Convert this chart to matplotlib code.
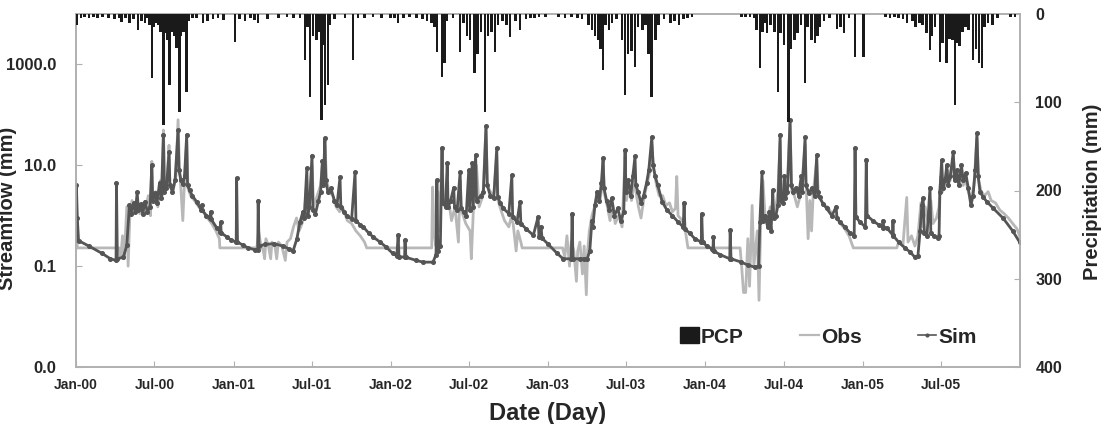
import numpy as np
import matplotlib
matplotlib.use("Agg")
import matplotlib.pyplot as plt
import matplotlib.dates as mdates
from matplotlib.patches import Patch
from matplotlib.lines import Line2D

plt.rcParams['font.family'] = ['Liberation Sans', 'DejaVu Sans']

START = np.datetime64('2000-01-01')

# ---- Simulated streamflow (day offset from 2000-01-01, mm) ----
sim_2000 = [(0, 0.33), (1, 4.0), (3, 0.9), (6, 0.32), (30, 0.25), (60, 0.18), (80, 0.14), (93, 0.13),
            (94, 4.4), (96, 0.14), (110, 0.15), (118, 0.26), (124, 1.6), (128, 1.1), (134, 1.8),
            (138, 1.2), (142, 2.9), (145, 1.3), (150, 1.7), (155, 1.1), (160, 1.9), (166, 1.2),
            (172, 1.5), (176, 10), (178, 2.0), (184, 2.8), (188, 1.8), (194, 4.5), (198, 2.2),
            (203, 40), (205, 3.0), (210, 3.5), (216, 18), (218, 4.0), (224, 3.0), (230, 5.0),
            (237, 50), (239, 8), (244, 5), (248, 4.2), (252, 6), (257, 40), (259, 4), (264, 3.2),
            (270, 2.5), (280, 1.9), (291, 1.3), (292, 1.6), (293, 1.3), (303, 1.0), (312, 0.9),
            (313, 1.2), (314, 0.85), (327, 0.57), (335, 0.48), (336, 0.75), (337, 0.46),
            (350, 0.38), (360, 0.33)]
sim_2001 = [(372, 0.30), (373, 5.5), (375, 0.30), (388, 0.26), (400, 0.23), (416, 0.21), (422, 0.21),
            (423, 2.0), (425, 0.25), (440, 0.27), (460, 0.28), (480, 0.25), (495, 0.22), (504, 0.20),
            (513, 0.35), (520, 0.75), (527, 1.2), (530, 0.9), (536, 8.7), (538, 1.0), (542, 1.5),
            (548, 15.6), (550, 1.3), (556, 1.1), (563, 2.0), (568, 3.0), (572, 12), (574, 4),
            (578, 34), (580, 5), (585, 2.9), (592, 3.5), (600, 2.0), (606, 1.6), (613, 5.8),
            (615, 1.5), (622, 1.2), (629, 1.0), (640, 0.85), (648, 7.3), (650, 0.8), (660, 0.66),
            (667, 0.6), (680, 0.45), (690, 0.38), (706, 0.30), (720, 0.24)]
sim_2002 = [(735, 0.18), (745, 0.16), (748, 0.41), (750, 0.155), (763, 0.15), (764, 0.33), (766, 0.15),
            (790, 0.13), (806, 0.12), (829, 0.12), (836, 0.17), (838, 5), (840, 0.2), (846, 0.25),
            (850, 22), (852, 1.8), (858, 1.5), (862, 11), (864, 1.5), (870, 2.0), (877, 3.6),
            (879, 1.5), (885, 1.3), (892, 7.3), (894, 1.4), (900, 1.2), (906, 1.0), (912, 8),
            (914, 1.3), (920, 11), (922, 1.5), (928, 16), (930, 2.0), (940, 2.5), (946, 3),
            (952, 60), (955, 4), (962, 2.5), (970, 2.2), (977, 22), (979, 2.4), (985, 1.8),
            (992, 1.4), (1005, 1.1), (1012, 6.3), (1014, 0.95), (1024, 0.75), (1031, 1.9),
            (1033, 0.7), (1045, 0.55), (1062, 0.41), (1073, 0.95), (1075, 0.38), (1080, 0.6),
            (1082, 0.36)]
sim_2003 = [(1095, 0.28), (1117, 0.18), (1131, 0.14), (1150, 0.14), (1152, 1.1), (1154, 0.14),
            (1170, 0.14), (1180, 0.14), (1187, 0.14), (1193, 0.2), (1198, 0.8), (1200, 0.6),
            (1205, 1.6), (1210, 3.0), (1215, 2.0), (1220, 4.5), (1224, 14), (1226, 3.5), (1232, 2.0),
            (1238, 1.3), (1244, 2.2), (1250, 1.0), (1258, 1.4), (1265, 0.8), (1272, 1.2), (1275, 20),
            (1277, 3), (1282, 5), (1288, 2.5), (1293, 6), (1298, 15), (1300, 4), (1305, 3),
            (1312, 1.8), (1318, 2.5), (1325, 4.5), (1330, 8), (1337, 36), (1340, 10), (1345, 6),
            (1351, 4), (1361, 1.9), (1372, 1.3), (1385, 1.0), (1398, 0.75), (1410, 0.6),
            (1412, 1.8), (1414, 0.55), (1425, 0.45), (1437, 0.35), (1452, 0.3), (1453, 1.1),
            (1455, 0.3), (1465, 0.25)]
sim_2004 = [(1477, 0.22), (1479, 0.21), (1480, 0.38), (1481, 0.2), (1495, 0.17), (1518, 0.14),
            (1519, 0.52), (1521, 0.14), (1545, 0.12), (1560, 0.105), (1577, 0.095), (1585, 0.1),
            (1588, 0.75), (1593, 7.3), (1595, 0.8), (1600, 1.0), (1606, 0.6), (1610, 1.2),
            (1614, 0.5), (1618, 3.2), (1620, 0.9), (1625, 1.0), (1630, 1.6), (1635, 40), (1637, 2),
            (1642, 1.8), (1645, 6), (1647, 2.2), (1652, 3), (1658, 80), (1661, 4), (1666, 3.0),
            (1672, 3.5), (1678, 2.5), (1684, 6), (1686, 3), (1693, 36), (1695, 4), (1702, 2.8),
            (1708, 3.5), (1715, 2.5), (1720, 16), (1722, 3), (1727, 2.3), (1735, 1.7), (1743, 1.4),
            (1755, 1.0), (1765, 1.5), (1767, 0.9), (1774, 0.75), (1785, 0.6), (1797, 0.46),
            (1807, 0.4), (1809, 22), (1811, 0.95), (1820, 0.75), (1833, 0.6), (1835, 13),
            (1837, 1.0)]
sim_2005 = [(1850, 0.8), (1865, 0.65), (1873, 0.6), (1874, 0.8), (1875, 0.58), (1883, 0.57),
            (1896, 0.42), (1897, 0.8), (1898, 0.4), (1910, 0.3), (1925, 0.23), (1937, 0.19),
            (1948, 0.15), (1955, 0.16), (1960, 0.5), (1964, 1.6), (1967, 2.2), (1970, 0.45),
            (1976, 0.4), (1983, 3.6), (1985, 0.45), (1992, 0.4), (2001, 0.36), (2004, 0.4),
            (2006, 3), (2010, 12.6), (2013, 3.5), (2018, 5), (2022, 10), (2025, 4), (2030, 6),
            (2037, 18), (2040, 5), (2045, 8), (2050, 4), (2056, 10), (2060, 5), (2066, 7),
            (2072, 3.5), (2078, 1.6), (2083, 2.5), (2088, 8), (2092, 43), (2095, 6), (2099, 3),
            (2107, 2.3), (2115, 1.9), (2130, 1.4), (2153, 0.89), (2175, 0.5), (2191, 0.3)]

# ---- Observed streamflow ----
obs_2000 = [(0, 0.23), (1, 3.5), (3, 0.23), (100, 0.23), (104, 0.15), (108, 0.4), (112, 0.14),
            (118, 1.5), (121, 0.1), (125, 1.0), (130, 2.0), (136, 1.3), (142, 2.2), (148, 1.1),
            (155, 1.5), (160, 1.2), (168, 2.5), (173, 1.0), (176, 12), (178, 2.5), (185, 3.0),
            (190, 1.5), (196, 5), (200, 2.5), (203, 50), (206, 4), (212, 6), (216, 25), (218, 4),
            (225, 3), (232, 6), (237, 80), (240, 10), (244, 3), (248, 0.8), (252, 5), (257, 30),
            (260, 3.5), (266, 2.5), (275, 2.0), (285, 1.5), (295, 1.2), (305, 0.9), (315, 0.7),
            (325, 0.5), (333, 0.35), (334, 0.23)]
obs_2001 = [(420, 0.23), (424, 0.5), (428, 0.3), (435, 0.2), (438, 0.14), (441, 0.35), (447, 0.25),
            (452, 0.14), (455, 0.3), (462, 0.25), (466, 0.14), (470, 0.3), (478, 0.25), (486, 0.13),
            (490, 0.3), (498, 0.35), (505, 0.6), (512, 0.9), (518, 0.5), (525, 0.7), (530, 1.0),
            (536, 5), (540, 1.0), (548, 10), (552, 1.5), (560, 2.5), (568, 4), (572, 10), (576, 6),
            (578, 25), (582, 5), (588, 3), (596, 2.5), (604, 1.5), (612, 1.2), (620, 1.4),
            (630, 0.8), (640, 0.7), (650, 0.5), (660, 0.4), (670, 0.3), (675, 0.23)]
obs_2002 = [(826, 0.23), (828, 3.7), (832, 0.4), (836, 0.25), (840, 3), (844, 0.5), (850, 20),
            (853, 2), (860, 1.5), (866, 1.8), (872, 0.8), (880, 1.5), (888, 0.3), (892, 5),
            (896, 1.2), (905, 0.7), (915, 0.5), (918, 0.14), (923, 1.5), (930, 10), (936, 1.5),
            (945, 2.5), (952, 55), (955, 4), (962, 3), (970, 2.5), (977, 15), (980, 2.0),
            (988, 1.2), (995, 0.8), (1005, 0.6), (1010, 0.9), (1015, 0.7), (1022, 0.2),
            (1026, 0.5), (1033, 0.3), (1036, 0.23)]
obs_2003 = [(1130, 0.23), (1135, 0.15), (1140, 0.4), (1146, 0.1), (1150, 0.3), (1156, 0.2),
            (1162, 0.05), (1165, 0.2), (1170, 0.3), (1176, 0.07), (1180, 0.25), (1185, 0.027),
            (1188, 0.2), (1192, 0.5), (1198, 1.0), (1204, 1.5), (1210, 2.5), (1216, 1.8),
            (1222, 4), (1224, 10), (1228, 2.5), (1234, 1.5), (1240, 0.8), (1246, 1.8), (1252, 0.7),
            (1260, 1.0), (1268, 0.6), (1275, 15), (1278, 2), (1284, 4), (1290, 2), (1296, 5),
            (1300, 3), (1306, 1.5), (1312, 0.9), (1318, 2), (1325, 4), (1332, 7), (1337, 25),
            (1342, 8), (1348, 4), (1354, 2.5), (1362, 2.5), (1370, 1.6), (1378, 1.8), (1385, 1.2),
            (1392, 1.4), (1395, 6), (1398, 1.0), (1408, 0.8), (1415, 0.5), (1421, 0.23)]
obs_2004 = [(1542, 0.23), (1546, 0.09), (1550, 0.03), (1555, 0.03), (1560, 0.35), (1564, 0.04),
            (1570, 1.6), (1574, 0.1), (1582, 0.5), (1586, 0.021), (1590, 0.8), (1595, 5),
            (1600, 1.0), (1606, 0.7), (1612, 1.5), (1618, 0.9), (1625, 1.5), (1630, 3), (1635, 30),
            (1638, 2), (1645, 2.5), (1652, 5), (1658, 70), (1662, 3), (1668, 2.5), (1675, 1.5),
            (1684, 3), (1693, 25), (1696, 3), (1700, 0.35), (1704, 2), (1708, 0.5), (1712, 3),
            (1720, 12), (1724, 2.5), (1730, 2), (1738, 1.6), (1745, 1.5), (1755, 1.1), (1765, 0.9),
            (1775, 0.7), (1785, 0.55), (1795, 0.4), (1805, 0.23)]
obs_2005 = [(1906, 0.23), (1910, 0.3), (1920, 0.25), (1929, 2.3), (1932, 0.3), (1940, 0.4),
            (1948, 0.25), (1955, 0.4), (1962, 1.8), (1966, 0.6), (1972, 1.5), (1978, 0.8),
            (1985, 2.0), (1990, 0.7), (1998, 0.9), (2004, 1.5), (2008, 6), (2012, 3), (2018, 4),
            (2024, 8), (2030, 5), (2037, 15), (2042, 6), (2048, 5), (2054, 8), (2060, 4),
            (2066, 5), (2072, 3), (2078, 2.0), (2085, 4), (2092, 35), (2096, 5), (2102, 3),
            (2110, 2.5), (2118, 3.0), (2125, 2.0), (2135, 1.8), (2145, 1.3), (2155, 1.1),
            (2165, 0.9), (2175, 0.7), (2185, 0.55), (2191, 0.4)]

# ---- Precipitation (day offset, mm) ----
pcp_2000 = [(2, 12), (12, 4), (20, 3), (30, 5), (40, 3), (50, 4), (62, 3), (75, 5), (90, 6),
            (100, 4), (106, 9), (115, 4), (124, 10), (134, 6), (144, 18), (152, 8), (160, 10),
            (165, 5), (170, 12), (176, 73), (180, 15), (185, 10), (190, 12), (196, 20), (203, 126),
            (207, 22), (212, 30), (217, 80), (222, 20), (228, 25), (234, 39), (240, 111), (244, 25),
            (250, 20), (257, 88), (262, 8), (270, 5), (280, 4), (295, 10), (305, 8), (318, 6),
            (330, 5), (342, 7)]
pcp_2001 = [(369, 32), (380, 6), (392, 8), (405, 5), (415, 7), (423, 10), (445, 6), (470, 4),
            (490, 3), (505, 4), (520, 5), (532, 52), (538, 15), (543, 94), (550, 25), (558, 30),
            (565, 20), (570, 120), (575, 35), (578, 103), (585, 80), (590, 12), (600, 6), (625, 4),
            (643, 52), (655, 5), (670, 4), (690, 3), (710, 5)]
pcp_2002 = [(730, 4), (740, 5), (748, 10), (760, 4), (775, 3), (790, 5), (805, 6), (815, 8),
            (826, 10), (833, 15), (838, 43), (850, 71), (855, 55), (860, 8), (875, 5), (892, 43),
            (900, 10), (908, 25), (915, 30), (926, 67), (932, 45), (940, 20), (950, 111), (957, 25),
            (965, 20), (973, 43), (980, 12), (990, 8), (1000, 12), (1008, 26), (1020, 8),
            (1031, 18), (1045, 6), (1055, 5), (1065, 4), (1075, 3)]
pcp_2003 = [(1090, 3), (1120, 3), (1135, 4), (1150, 3), (1165, 4), (1175, 6), (1190, 12),
            (1198, 18), (1205, 25), (1212, 30), (1218, 40), (1224, 63), (1230, 12), (1238, 18),
            (1245, 10), (1255, 6), (1268, 30), (1275, 92), (1282, 45), (1290, 42), (1298, 60),
            (1305, 15), (1315, 18), (1322, 12), (1330, 45), (1337, 94), (1345, 30), (1352, 12),
            (1365, 6), (1380, 10), (1390, 8), (1400, 12), (1410, 6), (1420, 4), (1430, 3)]
pcp_2004 = [(1545, 3), (1555, 3), (1565, 3), (1575, 5), (1580, 18), (1588, 61), (1594, 20),
            (1600, 10), (1605, 22), (1612, 12), (1622, 20), (1630, 88), (1636, 22), (1644, 35),
            (1654, 122), (1660, 40), (1668, 30), (1675, 22), (1683, 12), (1693, 78), (1699, 15),
            (1708, 30), (1716, 33), (1722, 25), (1728, 15), (1737, 8), (1750, 5), (1767, 17),
            (1775, 15), (1783, 22), (1795, 5), (1809, 49), (1828, 49)]
pcp_2005 = [(1880, 3), (1890, 4), (1900, 3), (1910, 5), (1920, 6), (1930, 10), (1942, 8),
            (1950, 15), (1958, 10), (1966, 12), (1975, 22), (1983, 41), (1988, 25), (1995, 15),
            (2006, 54), (2012, 33), (2022, 56), (2028, 28), (2035, 30), (2041, 103), (2046, 33),
            (2052, 36), (2058, 20), (2065, 15), (2072, 18), (2083, 52), (2090, 40), (2097, 55),
            (2104, 61), (2110, 15), (2118, 10), (2128, 12), (2140, 4), (2170, 3), (2180, 3)]

x_ticks = ['2000-01-01', '2000-07-01', '2001-01-01', '2001-07-01', '2002-01-01', '2002-07-01',
           '2003-01-01', '2003-07-01', '2004-01-01', '2004-07-01', '2005-01-01', '2005-07-01']
y_left_ticks = [0.001, 0.1, 10, 1000]
y_left_labels = ['0.0', '0.1', '10.0', '1000.0']
y_right_ticks = [0, 100, 200, 300, 400]


def to_xy(*parts):
    pairs = [p for part in parts for p in part]
    d = np.array([p[0] for p in pairs])
    v = np.array([p[1] for p in pairs], dtype=float)
    return START + d.astype('timedelta64[D]'), v


sim_x, sim_y = to_xy(sim_2000, sim_2001, sim_2002, sim_2003, sim_2004, sim_2005)
obs_x, obs_y = to_xy(obs_2000, obs_2001, obs_2002, obs_2003, obs_2004, obs_2005)
pcp_x, pcp_y = to_xy(pcp_2000, pcp_2001, pcp_2002, pcp_2003, pcp_2004, pcp_2005)

W, H = 1107, 424
fig = plt.figure(figsize=(W / 100, H / 100), dpi=100)
ax = fig.add_axes([76 / W, (H - 367) / H, (1020 - 76) / W, (367 - 14) / H])

text_col = '#262626'
spine_col = '#b0b0b0'
obs_col = '#b8b8b8'
sim_col = '#555555'

ax.plot(obs_x, obs_y, color=obs_col, lw=2.0, zorder=2)
ax.plot(sim_x, sim_y, color=sim_col, lw=2.0, marker='o', ms=2.6, mfc=sim_col, mec=sim_col, zorder=3)
ax.set_yscale('log')
ax.set_ylim(0.001, 10000)
ax.set_yticks(y_left_ticks)
ax.set_yticklabels(y_left_labels)
ax.yaxis.set_minor_locator(matplotlib.ticker.NullLocator())
ax.set_xlim(START, np.datetime64('2006-01-01'))
ax.set_xticks([np.datetime64(t) for t in x_ticks])
ax.xaxis.set_major_formatter(mdates.DateFormatter('%b-%y'))

ax2 = ax.twinx()
ax2.bar(pcp_x, pcp_y, width=6, color='#1a1a1a', align='center', zorder=4)
ax2.set_ylim(400, 0)
ax2.set_yticks(y_right_ticks)

for a in (ax, ax2):
    for s in a.spines.values():
        s.set_color(spine_col)
        s.set_linewidth(1.2)
    a.tick_params(direction='in', length=4, color=spine_col, labelcolor=text_col)
    for lab in a.get_xticklabels() + a.get_yticklabels():
        lab.set_fontweight('bold')
ax.tick_params(axis='x', pad=8, labelsize=10)
ax.tick_params(axis='y', pad=14, labelsize=12)
ax2.tick_params(axis='y', pad=11, labelsize=11.5)

ax.set_ylabel('Streamflow (mm)', fontsize=14.5, fontweight='bold', color=text_col)
ax.yaxis.set_label_coords(-0.0625, 0.45)
ax2.set_ylabel('Precipitation (mm)', fontsize=14.5, fontweight='bold', color=text_col)
ax2.yaxis.set_label_coords(1.067, 0.495)
ax.set_xlabel('Date (Day)', fontsize=17, fontweight='bold', color=text_col, labelpad=7)

handles = [Patch(facecolor='#1a1a1a', edgecolor='#1a1a1a'),
           Line2D([0], [0], color=obs_col, lw=1.6),
           Line2D([0], [0], color=sim_col, lw=1.2, marker='o', ms=2)]
leg = ax2.legend(handles, ['PCP', 'Obs', 'Sim'], loc='center', bbox_to_anchor=(0.797, 0.085),
                 ncol=3, frameon=False, handlelength=0.9, handleheight=0.8, handletextpad=0.1,
                 columnspacing=2.7, prop={'size': 15, 'weight': 'bold'})
for t in leg.get_texts():
    t.set_color(text_col)

fig.savefig('out.png', dpi=100)
